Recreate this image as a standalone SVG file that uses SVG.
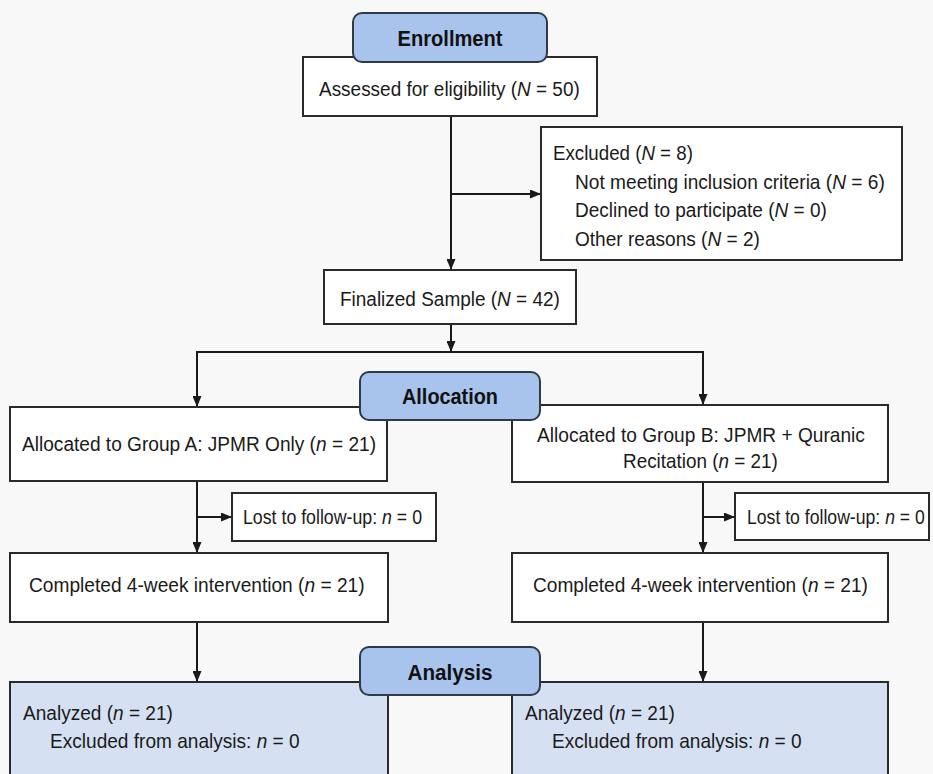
<svg xmlns="http://www.w3.org/2000/svg" width="933" height="774" viewBox="0 0 933 774">
<defs>
<marker id="ah" markerUnits="userSpaceOnUse" markerWidth="11" markerHeight="9" refX="11" refY="4.5" orient="auto">
<path d="M0,0 L11,4.5 L0,9 z" fill="#1a1a1a"/>
</marker>
</defs>
<style>
.bg{fill:#f8f8f8}
.box{fill:#ffffff;stroke:#2a2a2a;stroke-width:2}
.abox{fill:#d5e1f2;stroke:#2a2a2a;stroke-width:2}
.lab{fill:#a8c3ec;stroke:#2f3a48;stroke-width:2}
.t{font-family:"Liberation Sans",Arial,sans-serif;font-size:21px;fill:#1a1a1a}
.b{font-family:"Liberation Sans",Arial,sans-serif;font-size:22px;font-weight:bold;fill:#111;text-anchor:middle}
.i{font-style:italic}
.c{fill:none;stroke:#1a1a1a;stroke-width:2}
</style>
<rect class="bg" x="0" y="0" width="933" height="774"/>

<g id="connectors">
<line class="c" x1="451" y1="116" x2="451" y2="270" marker-end="url(#ah)"/>
<line class="c" x1="451" y1="194" x2="541" y2="194" marker-end="url(#ah)"/>
<line class="c" x1="451" y1="324" x2="451" y2="352" marker-end="url(#ah)"/>
<line class="c" x1="196" y1="352" x2="704" y2="352"/>
<line class="c" x1="197" y1="352" x2="197" y2="407" marker-end="url(#ah)"/>
<line class="c" x1="703" y1="352" x2="703" y2="405" marker-end="url(#ah)"/>
<line class="c" x1="197" y1="481" x2="197" y2="553" marker-end="url(#ah)"/>
<line class="c" x1="197" y1="517" x2="232" y2="517" marker-end="url(#ah)"/>
<line class="c" x1="703" y1="482" x2="703" y2="553" marker-end="url(#ah)"/>
<line class="c" x1="703" y1="517" x2="735" y2="517" marker-end="url(#ah)"/>
<line class="c" x1="197" y1="622" x2="197" y2="682" marker-end="url(#ah)"/>
<line class="c" x1="703" y1="622" x2="703" y2="682" marker-end="url(#ah)"/>
</g>

<g id="assessed">
<rect class="box" x="303" y="57" width="294" height="59"/>
<text class="t" transform="matrix(0.903 0 0 1 319 96)">Assessed for eligibility (<tspan class="i">N</tspan> = 50)</text>
</g>

<g id="excluded">
<rect class="box" x="541" y="127" width="361" height="133"/>
<text class="t" transform="matrix(0.892 0 0 1 553 160)">Excluded (<tspan class="i">N</tspan> = 8)</text>
<text class="t" transform="matrix(0.911 0 0 1 575 188.5)">Not meeting inclusion criteria (<tspan class="i">N</tspan> = 6)</text>
<text class="t" transform="matrix(0.905 0 0 1 575 217)">Declined to participate (<tspan class="i">N</tspan> = 0)</text>
<text class="t" transform="matrix(0.908 0 0 1 575 245.5)">Other reasons (<tspan class="i">N</tspan> = 2)</text>
</g>

<g id="finalized">
<rect class="box" x="324" y="270" width="252" height="54"/>
<text class="t" transform="matrix(0.904 0 0 1 340 306)">Finalized Sample (<tspan class="i">N</tspan> = 42)</text>
</g>

<g id="groupA">
<rect class="box" x="10" y="407" width="377" height="74"/>
<text class="t" transform="matrix(0.91 0 0 1 22 451)">Allocated to Group A: JPMR Only (<tspan class="i">n</tspan> = 21)</text>
</g>

<g id="groupB">
<rect class="box" x="512" y="405" width="376" height="77"/>
<text class="t" transform="matrix(0.911 0 0 1 537 442)">Allocated to Group B: JPMR + Quranic</text>
<text class="t" transform="matrix(0.9 0 0 1 623 468)">Recitation (<tspan class="i">n</tspan> = 21)</text>
</g>

<g id="lostA">
<rect class="box" x="232" y="493" width="204" height="48"/>
<text class="t" transform="matrix(0.845 0 0 1 243 524)">Lost to follow-up: <tspan class="i">n</tspan> = 0</text>
</g>

<g id="lostB">
<rect class="box" x="735" y="493" width="194" height="47"/>
<text class="t" transform="matrix(0.84 0 0 1 747 524)">Lost to follow-up: <tspan class="i">n</tspan> = 0</text>
</g>

<g id="completedA">
<rect class="box" x="10" y="553" width="378" height="69"/>
<text class="t" transform="matrix(0.912 0 0 1 29 592)">Completed 4-week intervention (<tspan class="i">n</tspan> = 21)</text>
</g>

<g id="completedB">
<rect class="box" x="512" y="553" width="376" height="69"/>
<text class="t" transform="matrix(0.91 0 0 1 533 592)">Completed 4-week intervention (<tspan class="i">n</tspan> = 21)</text>
</g>

<g id="analyzedA">
<rect class="abox" x="10" y="682" width="378" height="100"/>
<text class="t" transform="matrix(0.908 0 0 1 23 720)">Analyzed (<tspan class="i">n</tspan> = 21)</text>
<text class="t" transform="matrix(0.909 0 0 1 50 748)">Excluded from analysis: <tspan class="i">n</tspan> = 0</text>
</g>

<g id="analyzedB">
<rect class="abox" x="512" y="682" width="376" height="100"/>
<text class="t" transform="matrix(0.908 0 0 1 525 720)">Analyzed (<tspan class="i">n</tspan> = 21)</text>
<text class="t" transform="matrix(0.909 0 0 1 552 748)">Excluded from analysis: <tspan class="i">n</tspan> = 0</text>
</g>

<g id="enrollment">
<rect class="lab" x="353" y="13" width="194" height="49" rx="9"/>
<text class="b" transform="matrix(0.914 0 0 1 450 46)">Enrollment</text>
</g>

<g id="allocation">
<rect class="lab" x="360" y="372" width="180" height="48" rx="9"/>
<text class="b" transform="matrix(0.903 0 0 1 450 404)">Allocation</text>
</g>

<g id="analysis">
<rect class="lab" x="360" y="647" width="180" height="48" rx="9"/>
<text class="b" transform="matrix(0.94 0 0 1 450 680)">Analysis</text>
</g>
</svg>
